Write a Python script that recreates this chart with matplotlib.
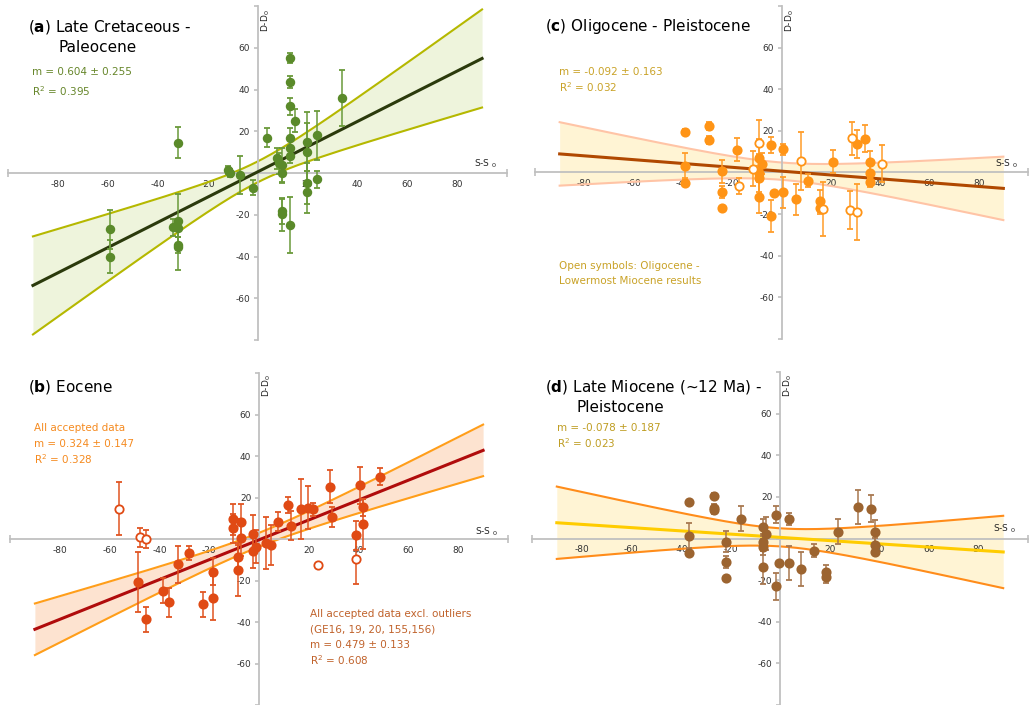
import matplotlib.pyplot as plt
import numpy as np

W, H = 1032, 705

# (a) Late Cretaceous - Paleocene
a_x = [-59, -59, -34, -32, -32, -32, -32, -32, -12, -11, -7, -2, 4, 8, 8.5, 10, 10, 10, 10,
       13, 13, 13, 13, 13, 13, 13, 15, 20, 20, 20, 20, 24, 24, 34]
a_y = [-27, -40, -26, 14.5, -23, -26.5, -34.5, -35.5, 1.3, 0, -1, -7, 17, 7, 4.7, 3.9, 0, -18.3, -19.8,
       55, 43.5, 32, 17, 12, 8, -25, 25, 15, 10, -5, -9, 18, -3, 36]
a_e = [9.5, 8, 4, 7.5, 13, 4, 4, 11, 2, 2, 9, 3.5, 4.5, 5, 5, 8, 5, 6, 8,
       2.5, 3, 4, 4.5, 4, 3, 13.5, 5.5, 14, 14, 10, 10, 11.8, 4, 13.5]
a_fit = (0.604, 0.255, 0.5, 5.0)   # slope, slope error, intercept, band half width at 0

# (b) Eocene
b_x = [-48.4, -45.5, -38.5, -36.2, -32.4, -28.3, -22.3, -18.4, -18.4, -10.4, -10.4, -8.4, -8.4,
       -7.4, -7.4, -2.3, -2.3, -1.2, 2.7, 4.7, 7.5, 11.8, 12.7, 16.7, 19.8, 21.8, 28.6, 29.5,
       39, 40.6, 41.7, 41.7, 48.7]
b_y = [-20.8, -38.6, -25, -30.4, -12.2, -6.7, -31.4, -15.7, -28.5, 9.5, 5.1, -8.7, -14.7,
       8, 0.6, 2.2, -5.8, -3.7, -1.8, -2.9, 8.3, 16.3, 6.4, 14.3, 15.1, 14.3, 25.3, 10.6,
       1.9, 25.8, 15.2, 7.4, 30]
b_e = [14.6, 6, 6, 7, 9, 3.5, 6, 6.5, 10.5, 7.5, 7, 6, 13,
       9, 9, 9.5, 8, 8, 12.5, 9.5, 4.5, 4, 7, 14.5, 10.5, 3, 7.8, 5,
       7, 9, 4, 12, 4]
b_open_x = [-56.4, -47.7, -45.3, 23.8, 38.8]
b_open_y = [14.6, 0.8, 0, -12.7, -9.6]
b_open_e = [12.7, 4.7, 4.5, 0, 12]
b_fit = (0.479, 0.133, -0.4, 3.35)

# (c) Oligocene - Pleistocene
c_x = [-39.2, -39.2, -39.2, -29.3, -29.3, -24.3, -24.3, -24.3, -18.2, -9.3, -9.2, -9.2, -8.1,
       -9.2, -4.2, -4.2, -3.2, 0.7, 0.7, 5.8, 10.9, 15.5, 15.5, 20.8, 30.7, 33.9, 35.8, 35.8, 35.8]
c_y = [19.3, 3.2, -5.1, 22.2, 15.7, 0.5, -9.3, -16.9, 10.9, 7.2, -0.3, -2.7, 4.2,
       -11.9, 13.2, -20.9, -10, 11.2, -9.6, -12.9, -3.9, -13.7, -16.9, 5.1, 13.7, 16.2, 5.1, -0.3, -4.8]
c_e = [1.5, 6, 1.5, 2, 2, 5.5, 3, 1, 5.5, 9, 9, 9, 5,
       7.5, 4, 7.5, 1, 2.7, 7.5, 7.5, 3, 5.5, 3, 5.5, 6.5, 6.5, 5, 5, 2]
c_open_x = [-9.2, -11.4, -17.3, 7.8, 16.8, 27.8, 28.8, 30.7, 40.8]
c_open_y = [14.1, 1.8, -6.4, 5.5, -17.7, -18, 16.5, -19, 4.2]
c_open_e = [11, 8.5, 3.8, 14, 13, 9, 8, 13.5, 9]
c_fit = (-0.092, 0.163, 0.65, 4.15)

# (d) Late Miocene (~12 Ma) - Pleistocene
d_x = [-36.8, -36.8, -36.8, -26.7, -26.7, -26.7, -21.7, -21.7, -21.7, -15.6, -6.7, -6.7, -6.7,
       -5.7, -6.7, -1.6, -1.6, -0.5, 3.5, 3.5, 8.5, 13.6, 18.5, 18.5, 23.4, 31.4, 36.5, 38.5, 38.5, 38.5]
d_y = [17.7, 1.3, -7, 20.6, 14.6, 13.8, -1.6, -11.2, -18.8, 9.4, 5.3, -1.9, -4, 2.4, -13.8,
       11.5, -23, -11.8, 9.4, -11.8, -14.7, -5.8, -15.9, -18.6, 3.2, 15.1, 14.4, 3.2, -2.9, -6.5]
d_e = [1, 6, 1, 1.5, 2, 2, 5, 3, 1, 6, 4, 4, 4, 8, 8,
       4, 6.5, 1, 3, 8, 8, 3, 3, 3, 6, 8, 6.5, 5.5, 3, 1]
d_fit = (-0.078, 0.187, 0.55, 4.35)


def px(x, y):
    return x / W, 1 - y / H


def make_axes(left, top, right, bottom):
    ax = fig.add_axes([left / W, 1 - bottom / H, (right - left) / W, (bottom - top) / H])
    ax.set_xlim(-100, 100)
    ax.set_ylim(-80, 80)
    ax.patch.set_alpha(0)
    for s in ['top', 'right']:
        ax.spines[s].set_visible(False)
    for s in ['left', 'bottom']:
        ax.spines[s].set_position('zero')
        ax.spines[s].set_color('#c0c0c0')
        ax.spines[s].set_linewidth(1.3)
    xt = list(range(-80, 81, 20))
    ax.set_xticks(xt)
    ax.set_xticklabels(['' if v == 0 else str(v) for v in xt])
    yt = list(range(-80, 81, 20))
    ax.set_yticks(yt)
    ax.set_yticklabels(['' if v in (0, -80, 80) else str(v) for v in yt])
    ax.set_xticks([-100, 100], minor=True)
    ax.tick_params(axis='x', which='major', length=0, pad=5, labelsize=6.5, labelcolor='#333333')
    ax.tick_params(axis='x', which='minor', length=6, direction='inout', color='#c0c0c0', width=1.2)
    ax.tick_params(axis='y', which='major', length=3, direction='out', pad=2.5, labelsize=6.5,
                   color='#c0c0c0', width=1.2, labelcolor='#333333')
    return ax


def band(ax, fit, fill, edge, line, lw_line=2.2):
    m, dm, b, h0 = fit
    xs = np.linspace(-90, 90, 200)
    yc = m * xs + b
    h = np.sqrt(h0 ** 2 + (dm * xs) ** 2)
    ax.fill_between(xs, yc - h, yc + h, color=fill, lw=0, zorder=1)
    ax.plot(xs, yc + h, color=edge, lw=1.5, zorder=2)
    ax.plot(xs, yc - h, color=edge, lw=1.5, zorder=2)
    ax.plot(xs, yc, color=line, lw=lw_line, zorder=3)


def points(ax, x, y, e, color, ecolor, ms, filled=True):
    ax.errorbar(x, y, yerr=e, fmt='o', ms=ms, mfc=color if filled else 'white', mec=color,
                mew=1.3, ecolor=ecolor, elinewidth=1.1, capsize=2.5, capthick=1.1, zorder=5)


fig = plt.figure(figsize=(W / 100, H / 100), dpi=100)

# panel a
ax = make_axes(8, 6, 507, 340)
band(ax, a_fit, '#eef4dc', '#b5b800', '#2b3a0c')
points(ax, a_x, a_y, a_e, '#5a8a2a', '#6a9a3a', 5.5)

# panel c
ax = make_axes(535, 6, 1028, 339)
band(ax, c_fit, '#fff4d4', '#ffc4a6', '#b04800')
points(ax, c_x, c_y, c_e, '#ff9416', '#ff9d2a', 6)
points(ax, c_open_x, c_open_y, c_open_e, '#ff9416', '#ff9d2a', 6, filled=False)

# panel b
ax = make_axes(10, 373, 508, 705)
band(ax, b_fit, '#fde3d0', '#ff9e1a', '#b00c0c')
points(ax, b_x, b_y, b_e, '#e04a14', '#e05522', 6)
points(ax, b_open_x, b_open_y, b_open_e, '#e04a14', '#e05522', 6, filled=False)

# panel d
ax = make_axes(532, 372, 1028, 705)
band(ax, d_fit, '#fff4d4', '#ff8c1a', '#ffcc00')
points(ax, d_x, d_y, d_e, '#9c6430', '#a87850', 6)

# titles
tfs = 11
fig.text(*px(28, 31), r'($\mathbf{a}$) Late Cretaceous -', fontsize=tfs, va='baseline')
fig.text(*px(59, 52), 'Paleocene', fontsize=tfs, va='baseline')
fig.text(*px(28, 391), r'($\mathbf{b}$) Eocene', fontsize=tfs, va='baseline')
fig.text(*px(545, 31), r'($\mathbf{c}$) Oligocene - Pleistocene', fontsize=tfs, va='baseline')
fig.text(*px(545, 391), r'($\mathbf{d}$) Late Miocene (~12 Ma) -', fontsize=tfs, va='baseline')
fig.text(*px(577, 412), 'Pleistocene', fontsize=tfs, va='baseline')

# statistics
sfs = 7.5
fig.text(*px(32, 72), 'm = 0.604 ± 0.255', fontsize=sfs, color='#66862a', va='center')
fig.text(*px(32, 91), r'R$^2$ = 0.395', fontsize=sfs, color='#66862a', va='center')

fig.text(*px(34, 428), 'All accepted data', fontsize=sfs, color='#f58a1f', va='center')
fig.text(*px(34, 444), 'm = 0.324 ± 0.147', fontsize=sfs, color='#f58a1f', va='center')
fig.text(*px(34, 459), r'R$^2$ = 0.328', fontsize=sfs, color='#f58a1f', va='center')
fig.text(*px(310, 614), 'All accepted data excl. outliers', fontsize=sfs, color='#c0622b', va='center')
fig.text(*px(310, 629), '(GE16, 19, 20, 155,156)', fontsize=sfs, color='#c0622b', va='center')
fig.text(*px(310, 645), 'm = 0.479 ± 0.133', fontsize=sfs, color='#c0622b', va='center')
fig.text(*px(310, 660), r'R$^2$ = 0.608', fontsize=sfs, color='#c0622b', va='center')

fig.text(*px(559, 72), 'm = -0.092 ± 0.163', fontsize=sfs, color='#c9a227', va='center')
fig.text(*px(559, 87), r'R$^2$ = 0.032', fontsize=sfs, color='#c9a227', va='center')
fig.text(*px(559, 266), 'Open symbols: Oligocene -', fontsize=sfs, color='#c9a227', va='center')
fig.text(*px(559, 281), 'Lowermost Miocene results', fontsize=sfs, color='#c9a227', va='center')

fig.text(*px(557, 428), 'm = -0.078 ± 0.187', fontsize=sfs, color='#bf9d22', va='center')
fig.text(*px(557, 443), r'R$^2$ = 0.023', fontsize=sfs, color='#bf9d22', va='center')

# axis names
for xx, yy in [(266, 21), (267, 386), (790, 21), (788, 386)]:
    fig.text(*px(xx, yy), r'D-D$_0$', fontsize=6.5, rotation=90, ha='center', va='center', color='#222222')
for xx, yy in [(474, 164), (475, 532), (995, 164), (993, 529)]:
    fig.text(*px(xx, yy), r'S-S $_0$', fontsize=6.5, ha='left', va='center', color='#222222')

fig.savefig('out.png', dpi=100)
